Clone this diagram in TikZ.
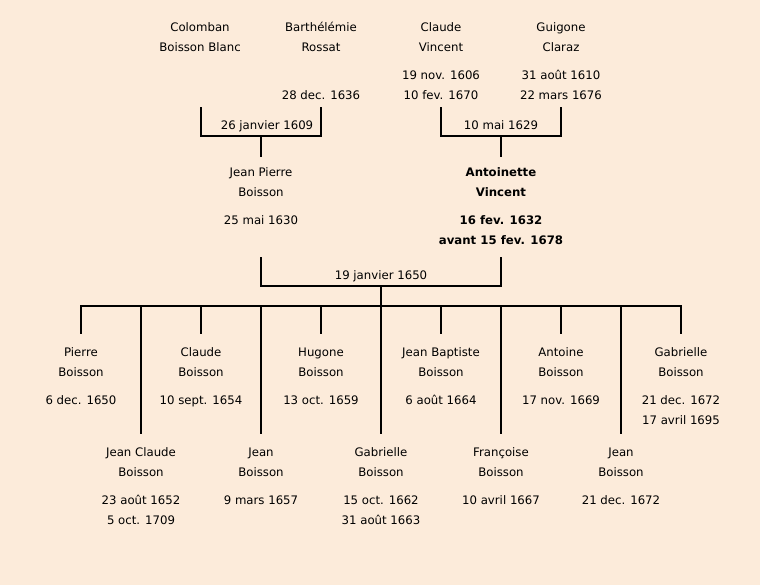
\documentclass[tikz,border=0pt]{standalone}
\usepackage{fontspec}
\setmainfont{DejaVu Sans}
\definecolor{bg}{RGB}{252,235,218}
\begin{document}
\begin{tikzpicture}[x=0.75pt,y=-0.75pt,
  t/.style={inner sep=0pt,text height=8pt,text depth=1pt,font=\fontsize{8.8pt}{10pt}\selectfont},
  tb/.style={t,font=\fontsize{8.8pt}{10pt}\selectfont\bfseries},
  ln/.style={line width=1.6pt,line cap=rect}]
\fill[bg] (0,0) rectangle (760,585);
\useasboundingbox (0,0) rectangle (760,585);
% grandparents
\node[t] (g1a) at (200,27) {Colomban};
\node[t] (g1b) at (200,47) {Boisson Blanc};
\node[t] (g2a) at (321,27) {Barthélémie};
\node[t] (g2b) at (321,47) {Rossat};
\node[t] (g2d) at (321,95) {28 dec. 1636};
\node[t] (g3a) at (441,27) {Claude};
\node[t] (g3b) at (441,47) {Vincent};
\node[t] (g3c) at (441,75) {19 nov. 1606};
\node[t] (g3d) at (441,95) {10 fev. 1670};
\node[t] (g4a) at (561,27) {Guigone};
\node[t] (g4b) at (561,47) {Claraz};
\node[t] (g4c) at (561,75) {31 août 1610};
\node[t] (g4d) at (561,95) {22 mars 1676};
% bracket coordinates
\coordinate (L1) at (201,108); \coordinate (L2) at (201,136);
\coordinate (L3) at (321,136); \coordinate (L4) at (321,108);
\coordinate (Lm) at (261,136); \coordinate (Lb) at (261,156);
\coordinate (R1) at (441,108); \coordinate (R2) at (441,136);
\coordinate (R3) at (561,136); \coordinate (R4) at (561,108);
\coordinate (Rm) at (501,136); \coordinate (Rb) at (501,156);
\draw[ln] (L1) -- (L2) -- (L3) -- (L4);
\draw[ln] (Lm) -- (Lb);
\draw[ln] (R1) -- (R2) -- (R3) -- (R4);
\draw[ln] (Rm) -- (Rb);
\node[t] (m1) at (267,125) {26 janvier 1609};
\node[t] (m2) at (501,125) {10 mai 1629};
% parents
\node[t] (p1a) at (261,172) {Jean Pierre};
\node[t] (p1b) at (261,192) {Boisson};
\node[t] (p1c) at (261,220) {25 mai 1630};
\node[tb] (p2a) at (501,172) {Antoinette};
\node[tb] (p2b) at (501,192) {Vincent};
\node[tb] (p2c) at (501,220) {16 fev. 1632};
\node[tb] (p2d) at (501,240) {avant 15 fev. 1678};
\coordinate (P1) at (261,258); \coordinate (P2) at (261,286);
\coordinate (P3) at (501,286); \coordinate (P4) at (501,258);
\coordinate (Pm) at (381,286); \coordinate (Pb) at (381,306);
\draw[ln] (P1) -- (P2) -- (P3) -- (P4);
\draw[ln] (Pm) -- (Pb);
\node[t] (m3) at (381,275) {19 janvier 1650};
% children bar
\coordinate (B1) at (81,306); \coordinate (B2) at (681,306);
\draw[ln] (B1) -- (B2);
\foreach \x in {81,201,321,441,561,681} {
  \coordinate (s\x) at (\x,306); \coordinate (e\x) at (\x,333);
  \draw[ln] (s\x) -- (e\x);
}
\foreach \x in {141,261,381,501,621} {
  \coordinate (s\x) at (\x,306); \coordinate (e\x) at (\x,433);
  \draw[ln] (s\x) -- (e\x);
}
% children row 1
\node[t] (c1a) at (81,352) {Pierre};
\node[t] (c1b) at (81,372) {Boisson};
\node[t] (c1c) at (81,400) {6 dec. 1650};
\node[t] (c3a) at (201,352) {Claude};
\node[t] (c3b) at (201,372) {Boisson};
\node[t] (c3c) at (201,400) {10 sept. 1654};
\node[t] (c5a) at (321,352) {Hugone};
\node[t] (c5b) at (321,372) {Boisson};
\node[t] (c5c) at (321,400) {13 oct. 1659};
\node[t] (c7a) at (441,352) {Jean Baptiste};
\node[t] (c7b) at (441,372) {Boisson};
\node[t] (c7c) at (441,400) {6 août 1664};
\node[t] (c9a) at (561,352) {Antoine};
\node[t] (c9b) at (561,372) {Boisson};
\node[t] (c9c) at (561,400) {17 nov. 1669};
\node[t] (c11a) at (681,352) {Gabrielle};
\node[t] (c11b) at (681,372) {Boisson};
\node[t] (c11c) at (681,400) {21 dec. 1672};
\node[t] (c11d) at (681,420) {17 avril 1695};
% children row 2
\node[t] (c2a) at (141,452) {Jean Claude};
\node[t] (c2b) at (141,472) {Boisson};
\node[t] (c2c) at (141,500) {23 août 1652};
\node[t] (c2d) at (141,520) {5 oct. 1709};
\node[t] (c4a) at (261,452) {Jean};
\node[t] (c4b) at (261,472) {Boisson};
\node[t] (c4c) at (261,500) {9 mars 1657};
\node[t] (c6a) at (381,452) {Gabrielle};
\node[t] (c6b) at (381,472) {Boisson};
\node[t] (c6c) at (381,500) {15 oct. 1662};
\node[t] (c6d) at (381,520) {31 août 1663};
\node[t] (c8a) at (501,452) {Françoise};
\node[t] (c8b) at (501,472) {Boisson};
\node[t] (c8c) at (501,500) {10 avril 1667};
\node[t] (c10a) at (621,452) {Jean};
\node[t] (c10b) at (621,472) {Boisson};
\node[t] (c10c) at (621,500) {21 dec. 1672};
\end{tikzpicture}
\end{document}
